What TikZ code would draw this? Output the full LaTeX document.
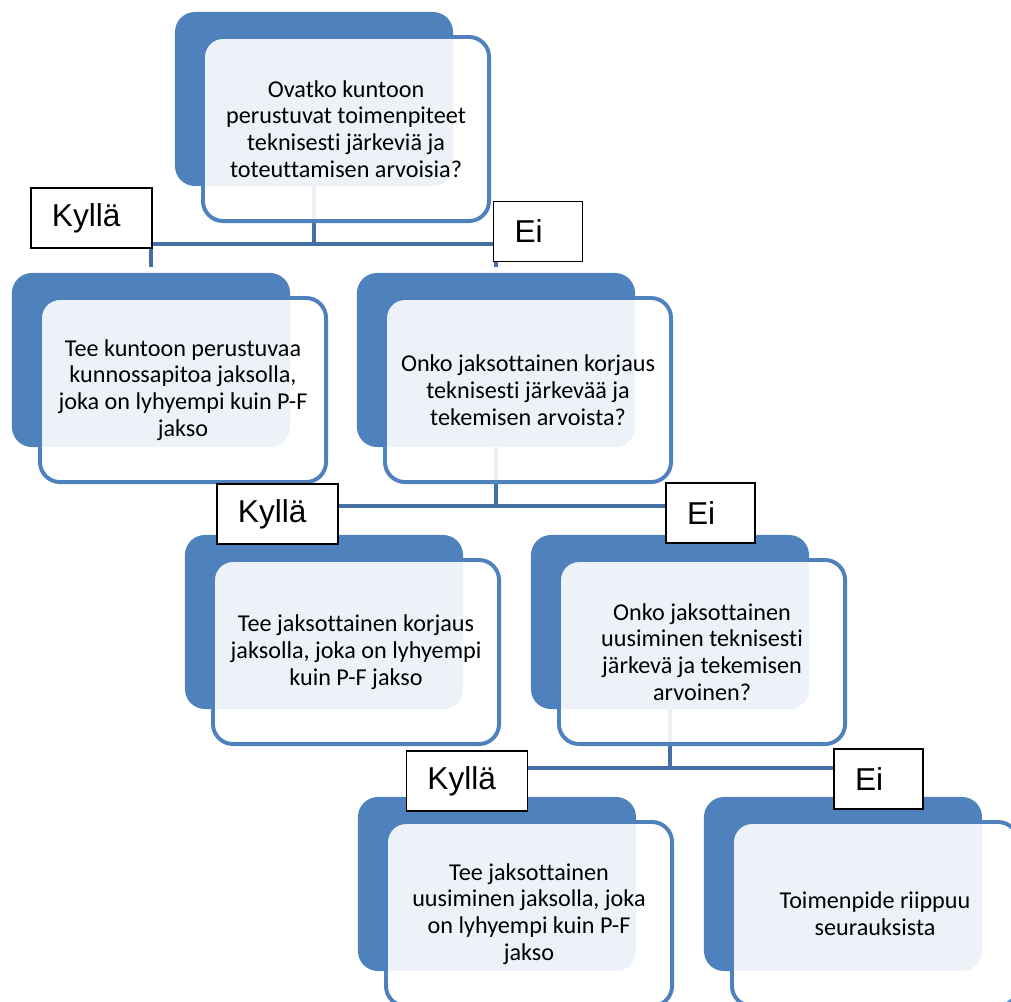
\documentclass[tikz,border=0pt]{standalone}
\usepackage{fontspec}
\setmainfont{Carlito}[Ligatures={NoCommon}]
\newfontfamily\labelfont{Liberation Sans}
\usetikzlibrary{positioning,calc,backgrounds}
\definecolor{boxblue}{HTML}{4F81BD}
\definecolor{busblue}{HTML}{4470A6}

\begin{document}
\begin{tikzpicture}[
  x=0.025cm, y=-0.025cm,
  back/.style={rectangle, fill=boxblue, rounded corners=5mm, minimum width=69.5mm, minimum height=43.5mm},
  front/.style={rectangle, draw=boxblue, line width=2.8pt, fill=white, fill opacity=0.9, text opacity=1, rounded corners=5mm, minimum width=71.5mm, minimum height=46mm, align=center, font=\fontsize{17.2}{19}\selectfont, xshift=8mm, yshift=-7.5mm},
  answer/.style={rectangle, draw=black, line width=1.3pt, fill=white, minimum height=15mm, inner xsep=5.25mm, text width=#1, align=left, font=\labelfont\fontsize{22.5}{26}\selectfont},
  bus/.style={draw=busblue, line width=3.2pt},
]
\useasboundingbox (0,0) rectangle (1011,1001);

% question 1
\node[back] (q1b) at (314,99) {};
\node[front] (q1) at (q1b) {Ovatko kuntoon\\perustuvat toimenpiteet\\teknisesti järkeviä ja\\toteuttamisen arvoisia?};

% row 2
\node[back] (a1b) at (151,360) {};
\node[front] (a1) at (a1b) {Tee kuntoon perustuvaa\\kunnossapitoa jaksolla,\\joka on lyhyempi kuin P-F\\jakso};
\node[back] (q2b) at (496,360) {};
\node[front] (q2) at (q2b) {Onko jaksottainen korjaus\\teknisesti järkevää ja\\tekemisen arvoista?};

% row 3
\node[back] (a2b) at (324,622) {};
\node[front] (a2) at (a2b) {Tee jaksottainen korjaus\\jaksolla, joka on lyhyempi\\kuin P-F jakso};
\node[back] (q3b) at (670,622) {};
\node[front] (q3) at (q3b) {Onko jaksottainen\\uusiminen teknisesti\\järkevä ja tekemisen\\arvoinen?};

% row 4
\node[back] (a3b) at (497,884) {};
\node[front] (a3) at (a3b) {Tee jaksottainen\\uusiminen jaksolla, joka\\on lyhyempi kuin P-F\\jakso};
\node[back] (a4b) at (843,884) {};
\node[front] (a4) at (a4b) {Toimenpide riippuu\\seurauksista};

% answers
\node[answer=19.75mm] (y1) at (91.5,218) {Kyllä};
\node[answer=11.75mm] (n1) at (538,231.5) {Ei};
\node[answer=19.75mm] (y2) at (277.5,514) {Kyllä};
\node[answer=11.75mm] (n2) at (710.5,513) {Ei};
\node[answer=19.75mm] (y3) at (467,781) {Kyllä};
\node[answer=11.75mm] (n3) at (878.5,779) {Ei};

% connectors
\coordinate (j1) at (314,244);
\coordinate (j2) at (496,506);
\coordinate (j3) at (670,768);
\begin{scope}[on background layer]
\draw[bus] (q1b.center) -- (j1);
\draw[bus, shorten <=1.5mm, shorten >=1.5mm] (a1b.north) -- (a1b.north |- j1) -- (q2b.north |- j1) -- (q2b.north);
\draw[bus] (q2b.center) -- (j2);
\draw[bus, shorten <=1.5mm, shorten >=1.5mm] (a2b.north) -- (a2b.north |- j2) -- (q3b.north |- j2) -- (q3b.north);
\draw[bus] (q3b.center) -- (j3);
\draw[bus, shorten <=1.5mm, shorten >=1.5mm] (a3b.north) -- (a3b.north |- j3) -- (a4b.north |- j3) -- (a4b.north);
\end{scope}
\end{tikzpicture}
\end{document}
